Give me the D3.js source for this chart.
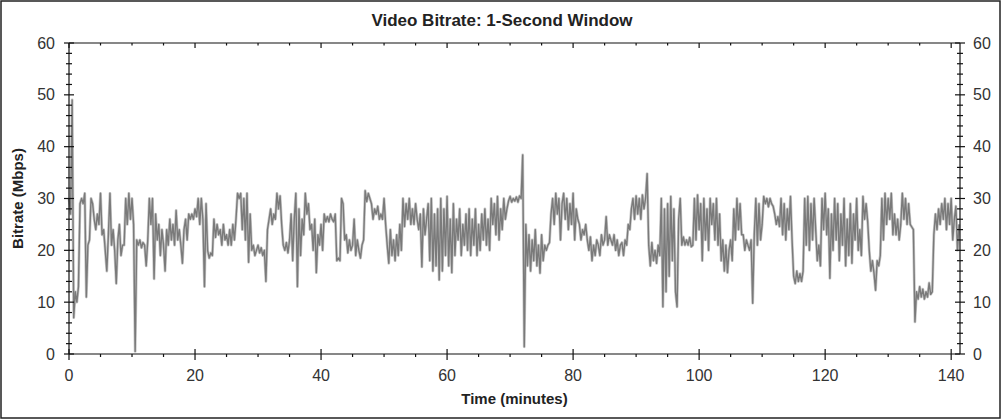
<!DOCTYPE html>
<html>
<head>
<meta charset="utf-8">
<script src="https://cdn.jsdelivr.net/npm/d3@7"></script>
<style>
  body { margin: 0; background: #fff; }
  text { font-family: "Liberation Sans", Arial, sans-serif; }
</style>
</head>
<body>
<svg id="chart" width="1004" height="420"></svg>
<script>
// ---- Data ----
const chartTitle = "Video Bitrate: 1-Second Window";
const xLabel = "Time (minutes)";
const yLabel = "Bitrate (Mbps)";
const sampleStepMinutes = 0.25;           // one value every 15 s
const xMaxMinutes = 141.4;
const xTickValues = [0, 20, 40, 60, 80, 100, 120, 140];
const yTickValues = [0, 10, 20, 30, 40, 50, 60];
// bitrate in Mbps, 4 samples per minute
const bitrate = [
  30,27,49,7,   12,10,13,29,  30,29,31,11,  21,22,30,29,  26,24,27,25,
  31,23,24,20,  16,23,31,21,  24,20,13.6,22, 25,19,21,21, 30,25,31,26,
  30,25,0.5,22, 21,22,20.5,21.5, 21,17,22,30, 25,30,14.5,27, 22,25,19,24,
  21,16,24,21,  26,22,25,21,  27.7,22,24,21, 17.5,24,26,22, 27,26,27,26,
  28,26.5,30,25, 30,26,13,29, 20,18.5,19.5,19, 26,22.5,25,23, 24,21,25,22,
  23,21,24,21,  25,22,26,31,  30,31,24,30,  22,31,17.7,27, 20,21,19,20,
  21,19.5,20.5,19, 20,14,24,26, 28,25,27,26, 31,28,30.5,25, 21,20,21.5,19.5,
  22,27,18,26,  31,13,28,19,  26,23,31,27,  29,24,25,20,  26,15.7,23,21,
  25,20,27,25.5, 26.5,25.5,27,26, 25.5,27,18,18.5, 18,30,29,22, 23,19.5,22,20,
  21,26,19,22,  20,18.5,21,22, 31.5,29.4,31,30, 29,26,28,27, 28.5,26,27,26,
  30,25,21,17.5, 24,19,22,18, 23,19,25,20,  30,24.6,29,26, 30,25,28,25,
  29,26,24,27,  16.8,28,23,26, 29,18,30,16, 27,17,28,14.3, 30,16,28,19,
  30.4,17,26,15.7, 29,19,26,22, 28,19,25,21, 27,20,28,19, 26,21,28,19,
  25,20,27,22,  28,21,26,20,  30,25,29,23,  30.4,22,28,24, 30,26,28,29.5,
  30.4,29.3,30,29.5, 30.3,29.3,30.5,30, 38.4,1.4,25,17, 23,16,22,18, 24,17,21,15.6,
  23,18,21,20,  21,21.5,27,30, 25,31,27,30,  22,29,31,26,  30,24,29,25,
  31,22,28,26,  25,22,24,23,  25,22,20,22.6, 18,21,19,22, 21,19,23,21,
  22,26.5,21,23, 22,21,23,20, 22,19,21,21.5, 19,22,21,25, 24,28,30,26,
  30.5,27,30,26, 30.7,28,30,34.8, 21,17,21.5,18, 20,17.5,21,19, 30,9.1,28,12,
  29,15,30.4,18, 28,12,9.1,26, 30,21,22.6,21, 22,21,22.5,20.7, 21,30,22,30.7,
  24,29,18,30,  22,28,20,30,  25,29,22,30,  21,27,18,22,  16,21,15.7,20,
  22,18,28,22,  30,24,29,23,  23,20,22,21,  20,22,9.8,23, 30,21,29,22,
  25,30.4,29,30, 28.4,30,29,28.5, 27,25,26.5,24.6, 30,23,29,22, 28,24,30.4,22,
  15,13.6,16,14, 15.5,14,16,30, 21,30.4,20,29, 22,30,24,18, 21,17,30,24,
  31,23,28,14.6, 27,20,30,22, 29,18,27,21, 30,17,26,19, 29,17.5,27,22,
  30,20,24,19,  30.4,26,29,25.5, 20,16,18,15.6, 12.3,18,17,19, 30,22,31,25,
  30,26,31,23,  27,23,26,22,  25,31,26,30,  25,29,25,24.5, 24,6.2,12,10.6,
  13,11,12.5,10.6, 12,11,13.7,11.5, 12,23,27,24, 28,25,29,26, 30,24,29,25,
  30,22,26,28.5, 20,25
];

(function () {
  // ---- Layout ----
  const W = 1004, H = 420;
  const pLeft = 69, pRight = 960, pTop = 43, pBottom = 354;
  const svg = d3.select("#chart");

  svg.append("rect").attr("x", 0).attr("y", 0).attr("width", W).attr("height", H).attr("fill", "#fff");
  svg.append("rect").attr("x", 1).attr("y", 1).attr("width", 999).attr("height", 417)
    .attr("fill", "none").attr("stroke", "#222").attr("stroke-width", 1.5);

  const x = d3.scaleLinear().domain([0, xMaxMinutes]).range([pLeft, pRight]);
  const y = d3.scaleLinear().domain([0, 60]).range([pBottom, pTop]);

  // ---- Series ----
  const pts = bitrate.map((v, i) => [i * sampleStepMinutes, v]);
  const line = d3.line().x(d => x(d[0])).y(d => y(d[1]));
  svg.append("path").datum(pts).attr("d", line)
    .attr("fill", "none").attr("stroke", "#c8c8c8").attr("stroke-width", 2.8).attr("stroke-linejoin", "round");
  svg.append("path").datum(pts).attr("d", line)
    .attr("fill", "none").attr("stroke", "#7a7a7a").attr("stroke-width", 1.4).attr("stroke-linejoin", "round");

  // ---- Axes ----
  const axisColor = "#111";
  const minorX = d3.range(0, 141, 5);
  const minorY = d3.range(0, 61, 2);

  const g = svg.append("g").attr("stroke", axisColor).attr("stroke-width", 1.2).attr("fill", "none");
  g.append("line").attr("x1", pLeft).attr("x2", pRight).attr("y1", pBottom).attr("y2", pBottom);
  g.append("line").attr("x1", pLeft).attr("x2", pRight).attr("y1", pTop).attr("y2", pTop);
  g.append("line").attr("x1", pLeft).attr("x2", pLeft).attr("y1", pTop).attr("y2", pBottom);
  g.append("line").attr("x1", pRight).attr("x2", pRight).attr("y1", pTop).attr("y2", pBottom);
  minorX.forEach(t => {
    const major = xTickValues.includes(t);
    g.append("line").attr("x1", x(t)).attr("x2", x(t))
      .attr("y1", major ? pBottom - 5 : pBottom).attr("y2", major ? pBottom + 6 : pBottom + 3);
    g.append("line").attr("x1", x(t)).attr("x2", x(t))
      .attr("y1", pTop).attr("y2", major ? pTop + 5 : pTop + 2.5);
  });
  minorY.forEach(v => {
    const major = yTickValues.includes(v);
    const h = major ? 5 : 3;
    [pLeft, pRight].forEach(ax => {
      g.append("line").attr("x1", ax - h).attr("x2", ax + h).attr("y1", y(v)).attr("y2", y(v));
    });
  });

  const labelColor = "#333";
  svg.append("g").selectAll("text").data(xTickValues).join("text")
    .attr("x", d => x(d)).attr("y", 381).attr("text-anchor", "middle")
    .attr("font-size", 16).attr("fill", labelColor).text(d => d);
  svg.append("g").selectAll("text").data(yTickValues).join("text")
    .attr("x", 55).attr("y", d => y(d) + 5.5).attr("text-anchor", "end")
    .attr("font-size", 16).attr("fill", labelColor).text(d => d);
  svg.append("g").selectAll("text").data(yTickValues).join("text")
    .attr("x", 973).attr("y", d => y(d) + 5.5).attr("text-anchor", "start")
    .attr("font-size", 16).attr("fill", labelColor).text(d => d);

  svg.append("text").attr("x", 502).attr("y", 26).attr("text-anchor", "middle")
    .attr("font-size", 17).attr("font-weight", "bold").attr("fill", "#222").text(chartTitle);
  svg.append("text").attr("x", (pLeft + pRight) / 2).attr("y", 404).attr("text-anchor", "middle")
    .attr("font-size", 15).attr("font-weight", "bold").attr("fill", "#222").text(xLabel);
  svg.append("text").attr("transform", `translate(23, ${(pTop + pBottom) / 2}) rotate(-90)`)
    .attr("text-anchor", "middle").attr("font-size", 15).attr("font-weight", "bold")
    .attr("fill", "#222").text(yLabel);
})();
</script>
</body>
</html>
